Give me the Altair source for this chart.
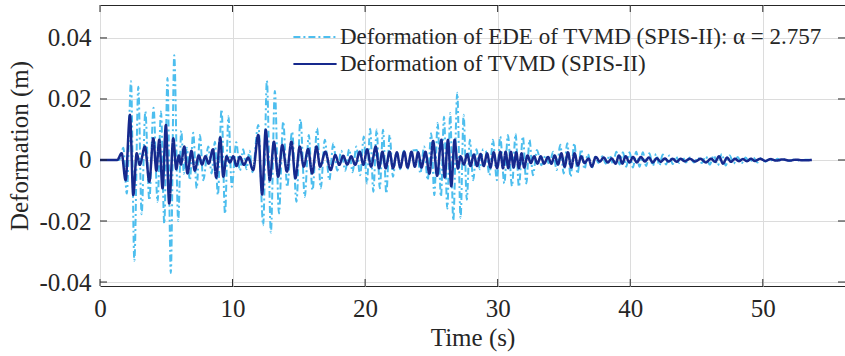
import altair as alt
import pandas as pd

# ---------------- data ----------------
series_names = ["Deformation of EDE of TVMD (SPIS-II): α = 2.757",
                "Deformation of TVMD (SPIS-II)"]
series_colors = ["#4DBEEE", "#16298D"]

ede_t = [0, 1.45, 1.76, 2.02, 2.34, 2.59, 2.89, 3.14, 3.42, 3.72, 4.04, 4.34, 4.6, 4.85,
         5.09, 5.34, 5.6, 5.9, 6.13, 6.33, 6.55, 6.78, 7.03, 7.29, 7.54, 7.79, 8.17, 8.42,
         8.67, 8.89, 9.17, 9.43, 9.69, 9.94, 10.28, 10.55, 10.8, 11.05, 11.28, 11.5, 11.94,
         12.31, 12.59, 12.89, 13.19, 13.5, 13.82, 14.12, 14.49, 14.82, 15.12, 15.45, 15.75,
         16.03, 16.38, 16.65, 16.96, 17.3, 17.6, 17.9, 18.2, 18.5, 18.8, 19.05, 19.34, 19.62,
         19.9, 20.13, 20.38, 20.62, 20.87, 21.11, 21.35, 21.6, 21.85, 22.1, 22.37, 22.65,
         22.92, 23.2, 23.5, 23.9, 24.17, 24.45, 24.72, 24.98, 25.22, 25.47, 25.72, 25.95,
         26.2, 26.42, 26.65, 26.95, 27.2, 27.43, 27.67, 27.9, 28.15, 28.4, 28.65, 28.9,
         29.1, 29.38, 29.64, 29.94, 30.19, 30.5, 30.77, 31.08, 31.35, 31.6, 31.9, 32.16,
         32.4, 32.66, 32.96, 33.3, 33.62, 33.9, 34.18, 34.45, 34.72, 34.98, 35.25, 35.5,
         35.78, 36.02, 36.3, 36.55, 36.8, 37.1, 37.35, 37.6, 37.9, 38.15, 38.45, 38.7,
         38.95, 39.2, 39.45, 39.7, 39.95, 40.2, 40.45, 40.7, 40.95, 41.2, 41.45, 41.7,
         41.95, 42.2, 42.45, 42.7, 42.95, 43.2, 43.45, 43.7, 43.95, 44.2, 44.5, 44.8,
         45.1, 45.4, 45.7, 46.0, 46.3, 46.6, 46.9, 47.2, 47.5, 47.8, 48.1, 48.4, 48.7,
         49.0, 49.3, 49.6, 49.9, 50.2, 50.5, 50.8, 51.1, 51.4, 51.7, 52.0, 52.4, 52.8,
         53.2, 53.7]
ede_v = [0, 0, 0.004, -0.011, 0.0258, -0.033, 0.024, -0.0178, 0.0159, -0.0132, 0.0171,
         -0.0137, 0.0159, -0.0208, 0.0269, -0.037, 0.0343, -0.020, 0.0096, -0.0045, 0.004,
         -0.0066, 0.0089, -0.0093, 0.0082, -0.0066, 0.0044, -0.0044, 0.006, -0.0115, 0.0166,
         -0.0176, 0.0143, -0.0088, 0.0058, -0.0035, 0.0035, -0.003, 0.003, -0.004, 0.0115,
         -0.0214, 0.026, -0.0238, 0.0226, -0.0175, 0.0126, -0.0088, 0.0093, -0.0137, 0.0134,
         -0.0121, 0.0082, -0.0099, 0.0104, -0.0093, 0.0066, -0.0066, 0.0055, -0.0035, 0.003,
         -0.0035, 0.0035, -0.004, 0.0044, -0.005, 0.0077, -0.0077, 0.0102, -0.0104, 0.010,
         -0.0093, 0.0099, -0.011, 0.0082, -0.0055, 0.0027, -0.003, 0.003, -0.003, 0.003,
         0.0033, -0.0044, 0.0044, -0.0066, 0.0088, -0.0115, 0.0121, -0.012, 0.0142, -0.0159,
         0.0154, -0.0198, 0.022, -0.019, 0.0148, -0.013, 0.0066, -0.0066, 0.0035, -0.003,
         0.0035, 0.003, -0.005, 0.0066, -0.0066, 0.0077, -0.0077, 0.0082, -0.0086, 0.0086,
         -0.0088, 0.0077, -0.0077, 0.0066, -0.005, 0.0033, -0.0017, 0.0015, -0.0015, 0.0027,
         -0.0033, 0.005, -0.0044, 0.0055, -0.0055, 0.0055, -0.0045, 0.0035, -0.003, 0.002,
         -0.0027, 0.001, -0.001, 0.0012, -0.0012, 0.0015, -0.0012, 0.0027, -0.0015, 0.0025,
         -0.0022, 0.0025, -0.0025, 0.0027, -0.0022, 0.0025, -0.002, 0.0022, -0.002, 0.002,
         -0.0018, 0.0018, -0.0015, 0.0015, -0.0013, 0.0012, -0.001, 0.001, -0.0008, 0.0008,
         -0.0008, 0.0008, -0.001, 0.0012, -0.0015, 0.0015, -0.0018, 0.002, -0.0018, 0.0015,
         -0.0012, 0.001, -0.001, 0.0008, -0.0008, 0.0008, -0.0008, 0.0007, -0.0006, 0.0005,
         -0.0005, 0.0004, -0.0004, 0.0003, -0.0003, 0.0002, -0.0002, 0.0001, 0]

tvmd_t = [0, 1.3, 1.63, 1.93, 2.26, 2.51, 2.77, 3.0, 3.39, 3.72, 4.02, 4.25, 4.47, 4.72,
          4.97, 5.22, 5.53, 5.75, 5.95, 6.1, 6.36, 6.6, 6.9, 7.15, 7.45, 7.7, 7.95, 8.2,
          8.52, 8.77, 9.07, 9.3, 9.55, 9.8, 10.05, 10.3, 10.55, 10.85, 11.18, 11.55, 11.94,
          12.23, 12.5, 12.81, 13.12, 13.44, 13.75, 14.1, 14.44, 14.74, 15.07, 15.37, 15.7,
          16.0, 16.33, 16.6, 17.0, 17.4, 17.75, 18.05, 18.35, 18.65, 18.95, 19.25, 19.6,
          19.87, 20.15, 20.45, 20.8, 21.05, 21.3, 21.55, 21.85, 22.1, 22.4, 22.65, 22.95,
          23.2, 23.5, 23.75, 24.0, 24.25, 24.55, 24.85, 25.13, 25.43, 25.75, 26.0, 26.25,
          26.5, 26.75, 27.0, 27.2, 27.45, 27.7, 27.95, 28.2, 28.45, 28.7, 28.95, 29.2,
          29.45, 29.7, 29.95, 30.2, 30.4, 30.6, 30.8, 31.0, 31.2, 31.4, 31.6, 31.8, 32.0,
          32.25, 32.5, 32.75, 33.0, 33.25, 33.5, 33.8, 34.05, 34.3, 34.55, 34.8, 35.05,
          35.3, 35.55, 35.8, 36.05, 36.3, 36.55, 36.85, 37.1, 37.4, 37.7, 38.0, 38.3, 38.6,
          38.9, 39.15, 39.4, 39.65, 39.95, 40.2, 40.5, 40.8, 41.1, 41.4, 41.7, 42.0, 42.3,
          42.6, 42.9, 43.2, 43.5, 43.8, 44.1, 44.5, 44.9, 45.3, 45.7, 46.1, 46.4, 46.7,
          47.0, 47.3, 47.6, 47.9, 48.2, 48.5, 48.8, 49.1, 49.4, 49.8, 50.2, 50.6, 51.0,
          51.5, 52.0, 52.5, 53.0, 53.7]
tvmd_v = [0, 0, 0.0022, -0.0066, 0.0148, -0.0115, 0.0022, -0.0016, 0.0044, -0.0071, 0.0071,
          -0.0035, 0.0066, -0.0093, 0.0115, -0.0143, 0.0071, -0.003, 0.0015, -0.0015, 0.0044,
          -0.0044, 0.003, -0.0035, 0.0015, -0.0015, 0.0012, -0.0012, 0.0035, -0.0058, 0.0074,
          -0.0055, 0.0012, -0.0008, 0.0012, -0.002, 0.0011, -0.0016, 0.0008, -0.0033, 0.0082,
          -0.0113, 0.0099, -0.0066, 0.006, -0.0055, 0.0049, -0.0038, 0.006, -0.006, 0.0044,
          -0.0022, 0.0036, -0.0044, 0.0044, -0.0022, 0.0027, -0.0033, 0.0016, -0.0016, 0.0014,
          -0.0015, 0.0012, -0.0016, 0.0027, -0.0016, 0.0035, -0.0022, 0.0044, -0.0027, 0.0027,
          -0.0027, 0.0027, -0.0027, 0.0025, -0.0025, 0.0027, -0.0025, 0.0027, -0.0022, 0.0025,
          -0.0025, 0.0027, -0.0045, 0.0062, -0.0052, 0.0066, -0.0057, 0.0066, -0.0086, 0.0066,
          -0.0028, 0.0012, -0.0015, 0.002, -0.002, 0.0018, -0.002, 0.002, -0.002, 0.0022,
          -0.0025, 0.0025, -0.0027, 0.0027, -0.0027, 0.0027, -0.0027, 0.0027, -0.0025, 0.0025,
          -0.0027, 0.0022, -0.0025, 0.0015, -0.001, 0.0012, -0.0012, 0.0012, -0.0012, 0.001,
          -0.0012, 0.0015, -0.0015, 0.0022, -0.0022, 0.0025, -0.0025, 0.0022, -0.0018, 0.0012,
          -0.001, 0.0005, -0.0022, 0.001, -0.0005, 0.0008, -0.0008, 0.0005, -0.0012, 0.0015,
          -0.0012, 0.0012, -0.0008, 0.001, -0.0008, 0.001, -0.0005, 0.0008, -0.0008, 0.0006,
          -0.0006, 0.0005, -0.0005, 0.0004, -0.0006, 0.0004, -0.0004, 0.0004, -0.0005, 0.0004,
          -0.0008, 0.0004, -0.0006, 0.0012, -0.0012, 0.0008, -0.0006, 0.0004, -0.0004, 0.0003,
          -0.0004, 0.0004, -0.0003, 0.0004, -0.0003, 0.0003, -0.0002, 0.0002, -0.0002, 0.0001,
          -0.0001, 0]

x_ticks = [0, 10, 20, 30, 40, 50]
y_ticks = [-0.04, -0.02, 0, 0.02, 0.04]
x_domain = [0, 56.2]
y_domain = [-0.0413, 0.0508]

# ---------------- build tables ----------------
df = pd.concat([
    pd.DataFrame({"t": ede_t, "v": ede_v, "series": series_names[0], "k": list(range(len(ede_t)))}),
    pd.DataFrame({"t": tvmd_t, "v": tvmd_v, "series": series_names[1], "k": list(range(len(tvmd_t)))}),
])
xt = pd.DataFrame({"t": x_ticks})
yt = pd.DataFrame({"v": y_ticks})

W, H = 745, 281
FONT = "Liberation Serif"
INK = "#262626"
TICK = 7

xscale = alt.Scale(domain=x_domain, nice=False, zero=False)
yscale = alt.Scale(domain=y_domain, nice=False, zero=False)
xaxis = alt.Axis(values=x_ticks, title="Time (s)", grid=True, ticks=False, domain=False,
                 labelFlush=False, labelOverlap=False, labelPadding=10, titlePadding=4,
                 labelFont=FONT, labelFontSize=25, labelColor=INK,
                 titleFont=FONT, titleFontSize=25, titleFontWeight="normal", titleColor=INK,
                 gridColor="#dcdcdc", gridWidth=1)
yaxis = alt.Axis(values=y_ticks, title="Deformation (m)", grid=True, ticks=False, domain=False,
                 labelOverlap=False, labelPadding=9, titlePadding=6,
                 labelFont=FONT, labelFontSize=25, labelColor=INK,
                 titleFont=FONT, titleFontSize=25, titleFontWeight="normal", titleColor=INK,
                 gridColor="#dcdcdc", gridWidth=1,
                 labelExpr="datum.value == 0 ? '0' : (datum.value < 0 ? '-' : '') + format(abs(datum.value), '.2f')")

X = alt.X("t:Q", scale=xscale, axis=xaxis)
Y = alt.Y("v:Q", scale=yscale, axis=yaxis)

# wide horizontal line symbol (custom path in unit coordinates)
legend = alt.Legend(title=None, orient="none", legendX=200, legendY=17,
                    symbolType="M-1.6,0L1.6,0", symbolSize=729, symbolStrokeWidth=2.2,
                    labelFont=FONT, labelFontSize=23, labelColor=INK, labelLimit=600,
                    rowPadding=0, labelOffset=10, padding=0)
color = alt.Color("series:N", scale=alt.Scale(domain=series_names, range=series_colors), legend=legend)
dash = alt.StrokeDash("series:N", scale=alt.Scale(domain=series_names, range=[[7, 3, 2, 3], [1, 0]]),
                      legend=legend)

ede_layer = alt.Chart(df).transform_filter(alt.datum.series == series_names[0]).mark_line(
    strokeWidth=2, interpolate="monotone").encode(x=X, y=Y, color=color, strokeDash=dash, order="k:Q")
tvmd_layer = alt.Chart(df).transform_filter(alt.datum.series == series_names[1]).mark_line(
    strokeWidth=2.5, interpolate="monotone").encode(x=X, y=Y, color=color, strokeDash=dash, order="k:Q")

tick_style = dict(color=INK, strokeWidth=1)
xb = alt.Chart(xt).mark_rule(**tick_style).encode(x=X, y=alt.value(H), y2=alt.value(H - TICK))
xtp = alt.Chart(xt).mark_rule(**tick_style).encode(x=X, y=alt.value(0), y2=alt.value(TICK))
yl = alt.Chart(yt).mark_rule(**tick_style).encode(y=Y, x=alt.value(0), x2=alt.value(TICK))
yr = alt.Chart(yt).mark_rule(**tick_style).encode(y=Y, x=alt.value(W - TICK), x2=alt.value(W))

chart = alt.layer(ede_layer, tvmd_layer, xb, xtp, yl, yr).properties(
    width=W, height=H,
    autosize=alt.AutoSizeParams(type="none"),
    padding={"left": 100, "top": 5, "right": 0, "bottom": 70},
).configure_view(stroke=INK, strokeWidth=1)

chart.save("out.html", embed_options={"renderer": "svg", "actions": False})
